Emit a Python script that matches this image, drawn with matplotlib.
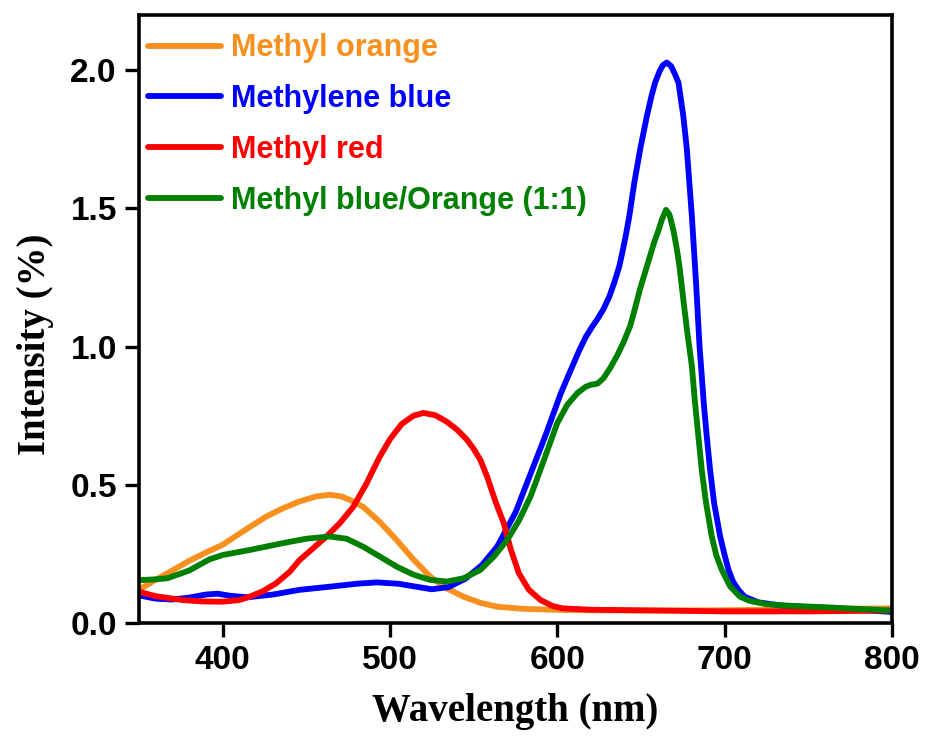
import matplotlib
matplotlib.use("Agg")
import matplotlib.pyplot as plt
import numpy as np

# ---------------- data ----------------
mo_wl = [350, 358, 367, 380, 390, 400, 413, 426, 436, 446, 456, 464, 471, 478, 484,
         494, 504, 514, 524, 534, 544, 554, 564, 580, 604, 650, 700, 750, 800]
mo_val = [0.12, 0.15, 0.18, 0.225, 0.255, 0.283, 0.335, 0.385, 0.415, 0.44, 0.458, 0.464,
          0.458, 0.44, 0.42, 0.365, 0.30, 0.23, 0.168, 0.125, 0.095, 0.073, 0.059, 0.051,
          0.047, 0.045, 0.046, 0.05, 0.053]

mb_wl = [350, 360, 370, 380, 390, 397, 405, 415, 430, 446, 465, 480, 492, 505, 515, 525,
         535, 545, 555, 564, 575, 584, 593, 602, 608, 613, 617, 620.6, 624, 627.5, 631, 634,
         637, 639, 641, 643, 646, 649.5, 653.5, 656, 658.4, 661, 663, 665.4, 668, 670,
         672.4, 675.3, 677.4, 680.4, 682.9, 685, 686, 687.5, 689.3, 691.3, 693.7, 697.3,
         700, 702.3, 705, 708.2, 712, 720, 735, 760, 800]
mb_val = [0.10, 0.088, 0.085, 0.092, 0.103, 0.106, 0.098, 0.093, 0.103, 0.12, 0.132, 0.142,
          0.147, 0.142, 0.132, 0.122, 0.13, 0.16, 0.21, 0.276, 0.40, 0.54, 0.68, 0.83, 0.915,
          0.985, 1.035, 1.07, 1.10, 1.135, 1.18, 1.231, 1.29, 1.345, 1.405, 1.472, 1.593,
          1.714, 1.834, 1.90, 1.955, 1.995, 2.018, 2.028, 2.015, 1.99, 1.955, 1.834, 1.714,
          1.472, 1.231, 1.0, 0.92, 0.796, 0.675, 0.554, 0.434, 0.313, 0.245, 0.192, 0.15,
          0.12, 0.095, 0.075, 0.062, 0.055, 0.04]

mr_wl = [350, 360, 376, 388, 400, 410, 416, 424, 432, 440, 446, 454, 462, 470, 478, 486,
         490, 494, 500, 507, 514, 520, 527, 534, 540, 546, 550, 554, 558, 563, 568, 572, 577,
         583, 590, 597, 603, 620, 650, 700, 750, 800]
mr_val = [0.113, 0.097, 0.083, 0.078, 0.077, 0.083, 0.095, 0.115, 0.144, 0.185, 0.228, 0.27,
          0.313, 0.361, 0.42, 0.505, 0.555, 0.603, 0.665, 0.72, 0.75, 0.76, 0.752, 0.728,
          0.70, 0.663, 0.63, 0.59, 0.53, 0.44, 0.361, 0.27, 0.18, 0.12, 0.083, 0.062, 0.053,
          0.048, 0.046, 0.042, 0.042, 0.045]

mix_wl = [350, 360, 367, 380, 392, 400, 416, 436, 450, 464, 474, 484, 494, 504, 514, 524,
          534, 544, 554, 562, 570, 577, 584, 592, 600, 606, 612, 617, 620, 624, 627.5, 631.5,
          635.5, 639.5, 643.5, 646.5, 649.5, 652.5, 655.5, 658, 660.4, 662.5, 665, 667,
          669.4, 671.5, 673, 675.3, 677.7, 680.4, 682.3, 684.3, 686.3, 688.9, 692.3, 695,
          698.3, 703.3, 709.2, 715, 725, 740, 760, 800]
mix_val = [0.155, 0.158, 0.162, 0.19, 0.23, 0.246, 0.264, 0.289, 0.305, 0.313, 0.305, 0.276,
           0.24, 0.204, 0.175, 0.156, 0.15, 0.162, 0.192, 0.24, 0.30, 0.37, 0.458, 0.59, 0.724,
           0.79, 0.832, 0.855, 0.862, 0.866, 0.885, 0.922, 0.965, 1.015, 1.074, 1.14, 1.21,
           1.27, 1.33, 1.38, 1.42, 1.46, 1.495, 1.478, 1.42, 1.35, 1.29, 1.17, 1.05, 0.929,
           0.796, 0.675, 0.554, 0.434, 0.313, 0.245, 0.192, 0.132, 0.095, 0.08, 0.068, 0.062,
           0.057, 0.045]

series = [
    ("Methyl orange", mo_wl, mo_val, "#F7901E"),
    ("Methylene blue", mb_wl, mb_val, "#0000FF"),
    ("Methyl red", mr_wl, mr_val, "#FF0000"),
    ("Methyl blue/Orange (1:1)", mix_wl, mix_val, "#008000"),
]

x_ticks = [400, 500, 600, 700, 800]
y_ticks = [0.0, 0.5, 1.0, 1.5, 2.0]

# ---------------- figure ----------------
fig = plt.figure(figsize=(9.27, 7.38), dpi=100)
ax = fig.add_axes([139 / 927, 1 - 623 / 738, (892 - 139) / 927, (623 - 15) / 738])

for label, wl, val, col in series:
    ax.plot(wl, val, color=col, lw=4.2, label=label, solid_capstyle="round",
            solid_joinstyle="round")

ax.set_xlim(350, 800)
ax.set_ylim(0, 2.2)
ax.set_xticks(x_ticks)
ax.set_yticks(y_ticks)
ax.set_yticklabels([f"{v:.1f}" for v in y_ticks])

for s in ax.spines.values():
    s.set_linewidth(2.6)

ax.tick_params(axis="both", which="major", direction="out", length=10, width=2.4,
               labelsize=24, pad=6)
for lab in ax.get_xticklabels() + ax.get_yticklabels():
    lab.set_fontfamily("Liberation Sans")
    lab.set_fontweight("bold")

ax.set_xlabel("Wavelength (nm)", fontsize=28, fontweight="bold",
              fontfamily="Liberation Serif", labelpad=12)
ax.set_ylabel("Intensity (%)", fontsize=28, fontweight="bold",
              fontfamily="Liberation Serif")
ax.yaxis.set_label_coords(-0.113, 0.459)

leg = ax.legend(loc="upper left", bbox_to_anchor=(0.012, 0.97), frameon=False,
                prop={"family": "Liberation Sans", "weight": "bold", "size": 22},
                handlelength=2.4, handletextpad=0.3, labelspacing=0.68,
                borderpad=0, borderaxespad=0, labelcolor="linecolor")

fig.savefig("out.png", dpi=100)
